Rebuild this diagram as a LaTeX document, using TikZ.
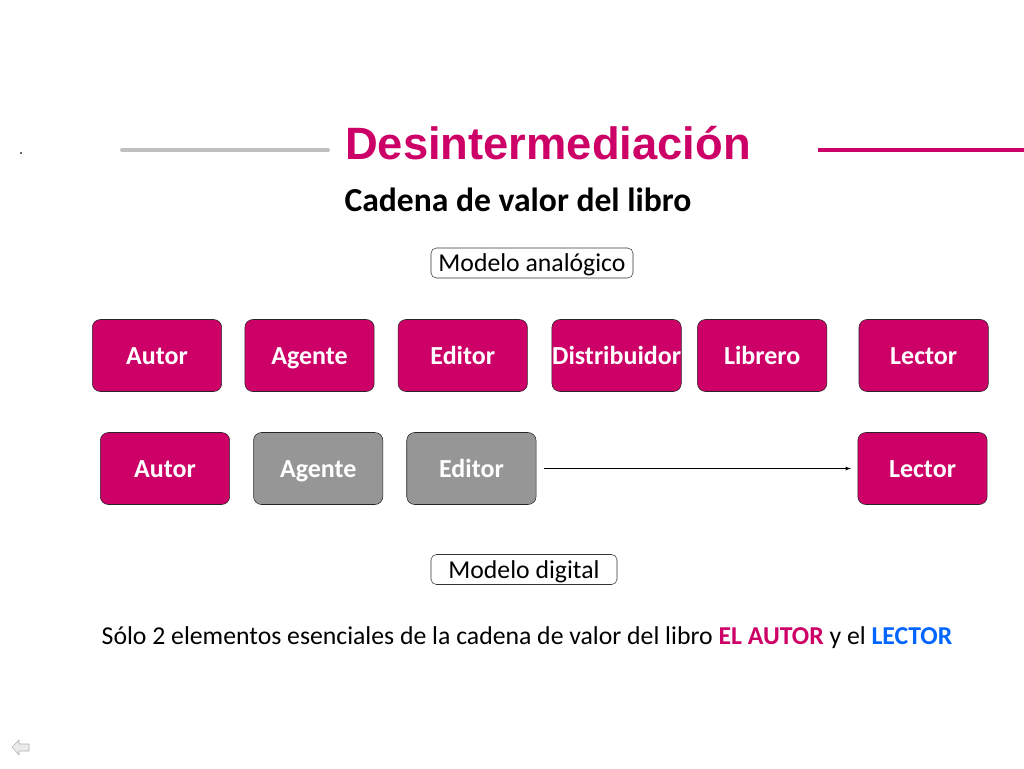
\documentclass[tikz,border=0pt]{standalone}
\usepackage{fontspec}
\setmainfont{Carlito}
\newfontfamily\titlefont{Liberation Sans}
\usetikzlibrary{positioning}
\definecolor{mymagenta}{RGB}{204,0,102}
\definecolor{mygrey}{RGB}{150,150,150}
\definecolor{mylightgrey}{RGB}{192,192,192}
\definecolor{myblue}{RGB}{0,102,255}
\newcommand{\boxwidth}{97pt}
\newcommand{\boxheight}{54pt}
\tikzset{
    common/.style={draw=black!85, rounded corners=6pt, minimum width=\boxwidth, minimum height=\boxheight,
        inner sep=0pt, text height=13pt, text depth=0pt, text=white, font=\bfseries\fontsize{19.5}{22}\selectfont},
    actor/.style={common, fill=mymagenta},
    removed/.style={common, fill=mygrey},
    model/.style={draw=black!80, rounded corners=4pt, minimum height=22.5pt, inner sep=0pt,
        text height=15pt, text depth=2pt, font=\fontsize{19.3}{22}\selectfont},
    rule/.style={line width=3pt}
}
\begin{document}
\begin{tikzpicture}[x=0.75pt, y=-0.75pt]
    \useasboundingbox[fill=white] (0,0) rectangle (1024,768);

    % title
    \node[font=\titlefont\bfseries\fontsize{34}{38}\selectfont, text=mymagenta] (title) at (548,143) {Desintermediación};
    \coordinate (greyA) at (122,150);
    \coordinate (greyB) at (328,150);
    \coordinate (redA) at (818,150);
    \coordinate (redB) at (1024,150);
    \draw[rule, mylightgrey, line cap=round] (greyA) -- (greyB);
    \draw[rule, mymagenta] (redA) -- (redB);
    \node[font=\bfseries\fontsize{25.2}{28}\selectfont] (subtitle) at (518,200) {Cadena de valor del libro};

    % analog chain
    \node[model, minimum width=151.5pt] (analog) at (532,263) {Modelo analógico};
    \node[actor] (autorA) at (157,355.5) {Autor};
    \node[actor, right=17pt of autorA] (agenteA) {Agente};
    \node[actor, right=17.5pt of agenteA] (editorA) {Editor};
    \node[actor, right=18pt of editorA] (distA) {Distribuidor};
    \node[actor, right=11.75pt of distA] (librA) {Librero};
    \node[actor, right=23.75pt of librA] (lectorA) {Lector};

    % digital chain
    \node[actor] (autorB) at (165,468.5) {Autor};
    \node[removed, right=17.5pt of autorB] (agenteB) {Agente};
    \node[removed, right=17.5pt of agenteB] (editorB) {Editor};
    \node[actor] (lectorB) at (922.5,468.5) {Lector};
    \draw[-latex, shorten <=6pt, shorten >=5pt] (editorB) -- (lectorB);
    \node[model, minimum width=139.5pt] (digital) at (524,569.5) {Modelo digital};

    \node[font=\fontsize{19.3}{22}\selectfont] (note) at (527,638)
        {Sólo 2 elementos esenciales de la cadena de valor del libro \textbf{\color{mymagenta}EL AUTOR} y el \textbf{\color{myblue}LECTOR}};

    % slide decorations
    \fill[black!60] (20,152) rectangle (22,154);
    \filldraw[fill=black!8, draw=black!30] (12,747) -- (19,740) -- (19,744) -- (29,744) -- (29,751) -- (19,751) -- (19,755) -- cycle;
\end{tikzpicture}
\end{document}
